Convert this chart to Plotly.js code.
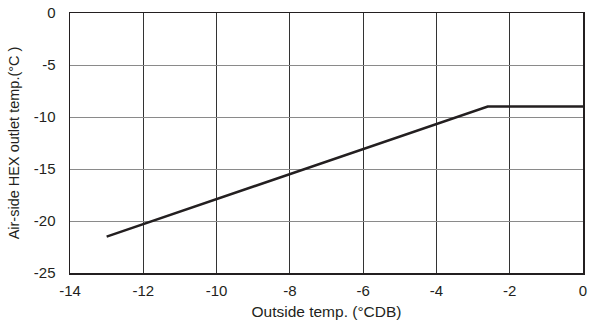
<!DOCTYPE html>
<html>
<head>
<meta charset="utf-8">
<script src="https://cdn.plot.ly/plotly-3.0.1.min.js"></script>
<style>html,body{margin:0;padding:0;background:#fff;}#chart{width:596px;height:328px;}</style>
</head>
<body>
<div id="chart"></div>
<script>
const outsideTemp = [-13.0, -2.6, 0];
const outletTemp = [-21.5, -9, -9];
const xTicks = [-14, -12, -10, -8, -6, -4, -2, 0];
const yTicks = [-25, -20, -15, -10, -5, 0];

const trace = {
  x: outsideTemp, y: outletTemp, mode: 'lines', type: 'scatter',
  line: {color: '#231f20', width: 2.5}, hoverinfo: 'skip', cliponaxis: false
};
const fam = '"Liberation Sans", Arial, sans-serif';
const font = {family: fam, size: 15, color: '#231f20'};
const layout = {
  width: 596, height: 328,
  margin: {l: 70, r: 13, t: 13, b: 55},
  paper_bgcolor: '#fff', plot_bgcolor: '#fff',
  font: font, showlegend: false,
  xaxis: {
    range: [-14, 0], tickvals: xTicks, ticktext: xTicks.map(String),
    showgrid: true, gridcolor: '#333', gridwidth: 1,
    showline: true, linecolor: '#231f20', linewidth: 1.5, mirror: true,
    zeroline: false, ticks: 'outside', ticklen: 3, tickcolor: 'rgba(0,0,0,0)',
    tickfont: font,
    title: {text: 'Outside temp. (°CDB)', font: {family: fam, size: 15.5, color: '#231f20'}, standoff: 8}
  },
  yaxis: {
    range: [-25, 0], tickvals: yTicks, ticktext: yTicks.map(String),
    showgrid: true, gridcolor: '#8a8a8a', gridwidth: 1,
    showline: true, linecolor: '#231f20', linewidth: 1.5, mirror: true,
    zeroline: false, ticks: 'outside', ticklen: 10, tickcolor: 'rgba(0,0,0,0)',
    tickfont: font,
    title: {text: 'Air-side HEX outlet temp.(°C )', font: {family: fam, size: 14.5, color: '#231f20'}, standoff: 10}
  }
};
Plotly.newPlot('chart', [trace], layout, {staticPlot: true, displayModeBar: false});
</script>
</body>
</html>
